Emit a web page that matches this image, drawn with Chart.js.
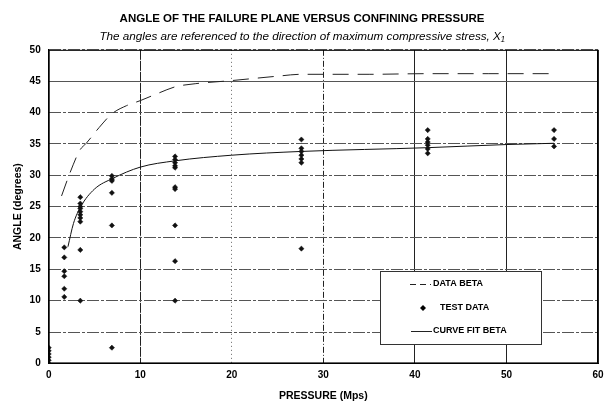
<!DOCTYPE html>
<html>
<head>
<meta charset="utf-8">
<script src="https://cdn.jsdelivr.net/npm/chart.js@4.4.1/dist/chart.umd.min.js"></script>
<style>
    html, body { margin: 0; padding: 0; background: #fff; }
    #wrap { width: 604px; height: 402px; }
</style>
</head>
<body>
<div id="wrap"><canvas id="angleChart" width="604" height="402"></canvas></div>
<script>
// test data, grouped by confining pressure (MPa)
const testX = [
    0, 0, 0, 0, 0, 0,
    1.7, 1.7, 1.7, 1.7, 1.7, 1.7,
    3.45, 3.45, 3.45, 3.45, 3.45, 3.45, 3.45, 3.45, 3.45, 3.45,
    6.9, 6.9, 6.9, 6.9, 6.9, 6.9,
    13.8, 13.8, 13.8, 13.8, 13.8, 13.8, 13.8, 13.8, 13.8, 13.8,
    27.6, 27.6, 27.6, 27.6, 27.6, 27.6, 27.6,
    41.4, 41.4, 41.4, 41.4, 41.4, 41.4,
    55.2, 55.2, 55.2
];
const testY = [
    0, 0.5, 1, 1.5, 2, 2.5,
    18.5, 16.9, 14.7, 13.9, 11.9, 10.6,
    26.5, 25.5, 25, 24.7, 24.2, 23.7, 23.2, 22.6, 18.1, 10,
    29.9, 29.4, 29.1, 27.2, 22, 2.5,
    33, 32.5, 32, 31.5, 31.2, 28.1, 27.8, 22, 16.3, 10,
    35.7, 34.3, 33.8, 33.2, 32.6, 32, 18.3,
    37.2, 35.8, 35.3, 34.8, 34.2, 33.5,
    37.2, 35.8, 34.6
];

// curve fit beta
const fitX = [2.1, 2.7, 3.5, 5, 7, 10, 13.8, 20, 27.6, 41.4, 50, 55.2];
const fitY = [18.6, 22.3, 25.0, 27.8, 29.5, 31.3, 32.3, 33.2, 33.8, 34.4, 34.9, 35.1];

// data beta (dashed)
const betaX = [1.4, 2.3, 3.4, 4.1, 5.5, 6.9, 8.5, 10, 12, 13.8, 16, 20, 25, 27.6, 35, 41.4, 48, 55.2];
const betaY = [26.7, 30.3, 34.0, 35.1, 37.6, 39.8, 41.1, 41.9, 43.1, 44.1, 44.6, 45.1, 45.8, 46.1, 46.1, 46.2, 46.2, 46.2];

const xTicks = [0, 10, 20, 30, 40, 50, 60];
const yTicks = [0, 5, 10, 15, 20, 25, 30, 35, 40, 45, 50];

const FONT = "'Liberation Sans', Arial, sans-serif";

function pts(xs, ys) {
    return xs.map((x, i) => ({ x: x, y: ys[i] }));
}

/* Рамка вокруг области графика + легенда внутри */
const framePlugin = {
    id: "frame",
    afterDatasetsDraw(chart) {
        const { ctx, chartArea: a } = chart;
        ctx.save();

        // legend box
        const lx = 380, ly = 271, lw = 161, lh = 73;
        ctx.fillStyle = "#fff";
        ctx.fillRect(lx, ly, lw, lh);
        ctx.strokeStyle = "#333";
        ctx.lineWidth = 1;
        ctx.strokeRect(lx + 0.5, ly + 0.5, lw, lh);

        ctx.font = "bold 9px " + FONT;
        ctx.fillStyle = "#000";
        ctx.textBaseline = "middle";

        ctx.strokeStyle = "#222";
        ctx.setLineDash([6, 4]);
        ctx.beginPath();
        ctx.moveTo(410, 284.5);
        ctx.lineTo(431, 284.5);
        ctx.stroke();
        ctx.setLineDash([]);
        ctx.fillText("DATA BETA", 433, 284);

        ctx.beginPath();
        ctx.moveTo(423, 305);
        ctx.lineTo(426, 308);
        ctx.lineTo(423, 311);
        ctx.lineTo(420, 308);
        ctx.closePath();
        ctx.fill();
        ctx.fillText("TEST DATA", 440, 308);

        ctx.beginPath();
        ctx.moveTo(411, 331.5);
        ctx.lineTo(432, 331.5);
        ctx.stroke();
        ctx.fillText("CURVE FIT BETA", 433, 331);

        // frame
        ctx.strokeStyle = "#000";
        ctx.lineWidth = 1;
        ctx.strokeRect(a.left + 0.5, a.top + 0.5, a.right - a.left - 1, a.bottom - a.top - 1);
        ctx.restore();
    }
};

document.addEventListener("DOMContentLoaded", () => {
    const canvas = document.getElementById("angleChart");

    new Chart(canvas, {
        type: "scatter",
        plugins: [framePlugin],
        data: {
            datasets: [
                {
                    label: "DATA BETA",
                    data: pts(betaX, betaY),
                    showLine: true,
                    borderColor: "#222",
                    borderWidth: 1,
                    borderDash: [16, 9],
                    pointRadius: 0,
                    cubicInterpolationMode: "monotone"
                },
                {
                    label: "TEST DATA",
                    data: pts(testX, testY),
                    pointStyle: "rectRot",
                    pointRadius: 2.6,
                    backgroundColor: "#111",
                    borderColor: "#111",
                    borderWidth: 0.5
                },
                {
                    label: "CURVE FIT BETA",
                    data: pts(fitX, fitY),
                    showLine: true,
                    borderColor: "#111",
                    borderWidth: 1,
                    pointRadius: 0,
                    cubicInterpolationMode: "monotone"
                }
            ]
        },
        options: {
            responsive: false,
            animation: false,
            layout: {
                padding: { top: 0, right: 0, bottom: 0, left: 0 }
            },
            plugins: {
                legend: { display: false },
                tooltip: { enabled: false },
                title: {
                    display: true,
                    text: "ANGLE OF THE FAILURE PLANE VERSUS CONFINING PRESSURE",
                    color: "#000",
                    font: { family: FONT, size: 11.5, weight: "bold" },
                    padding: { top: 12, bottom: 4 }
                },
                subtitle: {
                    display: true,
                    text: "The angles are referenced to the direction of maximum compressive stress, X\u2081",
                    color: "#000",
                    font: { family: FONT, size: 11.7, style: "italic" },
                    padding: { top: 0, bottom: 6 }
                }
            },
            scales: {
                x: {
                    type: "linear",
                    min: 0,
                    max: 60,
                    afterBuildTicks: (axis) => { axis.ticks = xTicks.map(v => ({ value: v })); },
                    afterFit: (axis) => { axis.paddingRight = 6; },
                    ticks: {
                        color: "#000",
                        font: { family: FONT, size: 10, weight: "bold" },
                        padding: 6
                    },
                    grid: {
                        color: (c) => c.tick && c.tick.value === 20 ? "#666" : "#222",
                        lineWidth: 1,
                        drawTicks: false
                    },
                    border: {
                        color: "#000",
                        dash: (c) => {
                            const v = c.tick ? c.tick.value : 0;
                            if (v === 20) return [1, 3];
                            if (v === 30) return [6, 2, 1, 2];
                            if (v === 10) return [10, 1];
                            return [];
                        }
                    },
                    title: {
                        display: true,
                        text: "PRESSURE (Mps)",
                        color: "#000",
                        font: { family: FONT, size: 10.5, weight: "bold" },
                        padding: { top: 2, bottom: 0 }
                    }
                },
                y: {
                    min: 0,
                    max: 50,
                    afterBuildTicks: (axis) => { axis.ticks = yTicks.map(v => ({ value: v })); },
                    ticks: {
                        color: "#000",
                        font: { family: FONT, size: 10, weight: "bold" },
                        padding: 8
                    },
                    grid: {
                        color: "#555",
                        lineWidth: 1,
                        drawTicks: false
                    },
                    border: {
                        color: "#000",
                        dash: (c) => (c.tick && c.tick.value === 45) ? [] : [12, 2, 3, 2]
                    },
                    title: {
                        display: true,
                        text: "ANGLE (degrees)",
                        color: "#000",
                        font: { family: FONT, size: 10.5, weight: "bold" },
                        padding: { top: 12, bottom: -3 }
                    }
                }
            }
        }
    });
});
</script>
</body>
</html>
